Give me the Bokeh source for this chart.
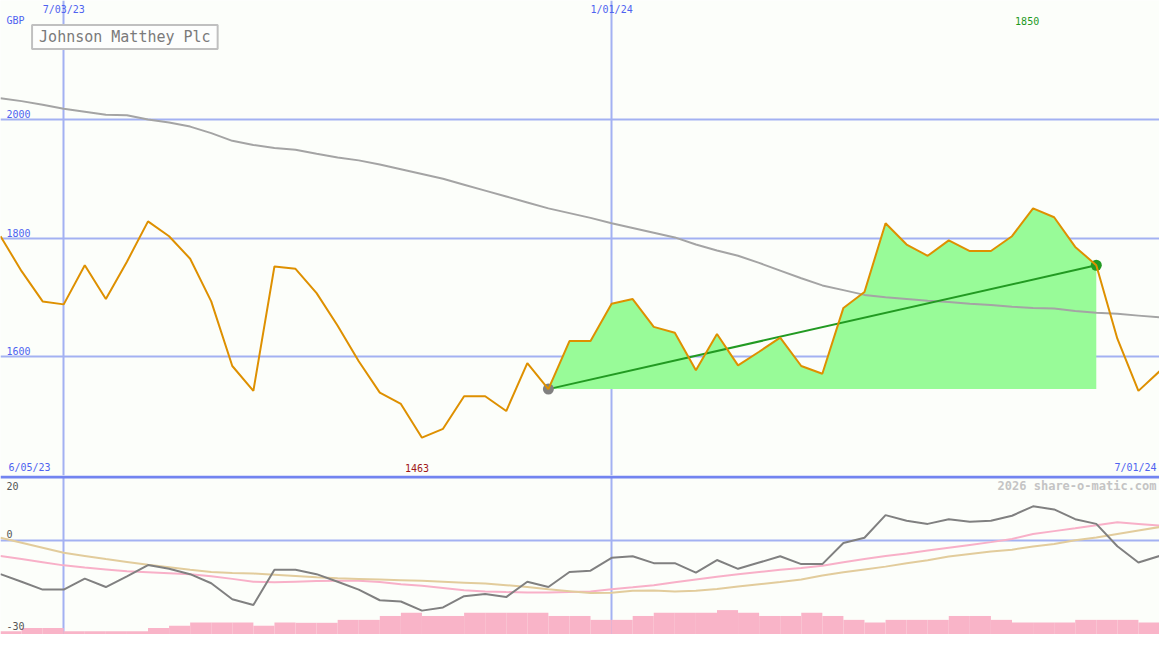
import pandas as pd
from bokeh.plotting import figure
from bokeh.models import Range1d, Grid, FixedTicker, Span, Label
from bokeh.layouts import column
from bokeh.embed import file_html
from bokeh.resources import INLINE

# ---------------- data ----------------
dates = pd.date_range("2023-06-12", periods=56, freq="7D")

price = [1803, 1744, 1693, 1688, 1754, 1697, 1760, 1828, 1803, 1765,
         1693, 1584, 1542, 1752, 1748, 1707, 1652, 1592, 1539, 1520,
         1463, 1478, 1533, 1533, 1508, 1589, 1545, 1626, 1626, 1689,
         1697, 1650, 1640, 1577, 1638, 1585, 1608, 1632, 1584, 1571,
         1682, 1709, 1825, 1789, 1770, 1796, 1778, 1778, 1803, 1850,
         1835, 1785, 1754, 1630, 1542, 1575]

ma_long = [2036, 2031, 2025, 2018, 2013, 2008, 2007, 2000, 1995, 1988,
           1977, 1964, 1957, 1952, 1949, 1942, 1936, 1931, 1924, 1916,
           1908, 1900, 1890, 1880, 1870, 1860, 1850, 1842, 1834, 1825,
           1817, 1809, 1801, 1789, 1779, 1770, 1758, 1745, 1732, 1720,
           1712, 1704, 1700, 1697, 1694, 1692, 1689, 1687, 1684, 1682,
           1681, 1677, 1674, 1672, 1669, 1666]

momentum = [-10.8, -13.2, -15.7, -15.7, -12.2, -14.9, -11.5, -7.9, -9.1, -10.8,
            -13.7, -18.8, -20.6, -9.4, -9.4, -10.8, -13.2, -15.7, -19.1, -19.5,
            -22.4, -21.4, -17.8, -17.1, -18.1, -13.2, -14.9, -10.1, -9.7, -5.6,
            -5.1, -7.3, -7.3, -10.3, -6.3, -9.1, -7.1, -5.1, -7.6, -7.6,
            -0.9, 0.8, 8.0, 6.2, 5.2, 6.7, 5.9, 6.2, 7.8, 10.8,
            9.8, 6.7, 5.2, -1.9, -7.1, -5.0]

signal_fast = [-5.0, -6.0, -7.0, -8.0, -8.7, -9.3, -9.9, -10.2, -10.5, -10.8,
               -11.5, -12.3, -13.2, -13.4, -13.2, -13.0, -12.9, -12.9, -13.3, -14.0,
               -14.5, -15.2, -15.9, -16.3, -16.5, -16.6, -16.6, -16.5, -16.3, -15.6,
               -15.0, -14.3, -13.4, -12.5, -11.6, -10.8, -10.1, -9.4, -8.8, -8.1,
               -7.0, -6.0, -5.0, -4.2, -3.3, -2.4, -1.5, -0.6, 0.4, 2.0,
               2.9, 3.8, 4.8, 5.7, 5.2, 4.7]

signal_slow = [0.8, -0.8, -2.4, -4.0, -5.0, -6.0, -6.9, -7.8, -8.6, -9.4,
               -10.1, -10.4, -10.6, -11.0, -11.4, -11.8, -12.1, -12.3, -12.5, -12.7,
               -12.9, -13.2, -13.5, -13.8, -14.3, -14.9, -15.6, -16.2, -16.8, -16.7,
               -16.1, -16.0, -16.3, -16.1, -15.5, -14.7, -14.0, -13.3, -12.5, -11.2,
               -10.2, -9.3, -8.4, -7.3, -6.4, -5.2, -4.4, -3.6, -3.0, -2.0,
               -1.2, 0.0, 0.9, 2.0, 3.1, 4.2]

# weekly volume (thousands), one value per interval between consecutive weeks
volume = [330, 670, 670, 330, 330, 330, 330, 670, 900, 1230,
          1230, 1230, 900, 1230, 1200, 1200, 1500, 1500, 1900, 2230,
          1900, 1900, 2230, 2230, 2230, 2230, 1900, 1900, 1500, 1500,
          1900, 2230, 2230, 2230, 2500, 2230, 1900, 1900, 2230, 1900,
          1500, 1230, 1500, 1500, 1500, 1900, 1900, 1500, 1230, 1230,
          1230, 1500, 1500, 1500, 1230]

date_lines = ["2023-07-03", "2024-01-01"]
date_line_labels = ["7/03/23", "1/01/24"]
price_grid = [1600, 1800, 2000]
trend_start, trend_end = 26, 52
title = "Johnson Matthey Plc"

# ---------------- styling ----------------
BG = "#fcfefa"
GRID = "#a3b1f2"
BLUE_TXT = "#4f63f0"
FONT = "DejaVu Sans Mono"
W, H_UP, H_LO = 1159, 475, 159


def ms(d):
    return pd.Timestamp(d).timestamp() * 1000.0


X0, X1 = ms(dates[0]), ms(dates[-1])


def xd(px):  # reference pixel -> x data
    return X0 + (X1 - X0) * px / 1175.0


def yu(px):  # reference pixel -> upper panel value
    return 2200.8 - px / 0.6075


def yl(px):  # reference pixel -> lower panel value
    return 20.0 - (px - 487) / 3.26


def lab(p, x, y, text, color, size="10px", align="left", base="middle", style="normal"):
    p.add_layout(Label(x=x, y=y, text=text, text_color=color, text_font=FONT,
                       text_font_size=size, text_align=align, text_baseline=base,
                       text_font_style=style))


# ---------------- upper panel ----------------
p1 = figure(width=W, height=H_UP, x_range=Range1d(X0, X1), y_range=Range1d(1399.2, 2200.8),
            x_axis_type=None, y_axis_type=None, toolbar_location=None, output_backend="svg",
            min_border=0, background_fill_color=BG, border_fill_color=BG, outline_line_color=None)

p1.add_layout(Grid(dimension=1, ticker=FixedTicker(ticks=price_grid),
                   grid_line_color=GRID, grid_line_width=2))
p1.add_layout(Grid(dimension=0, ticker=FixedTicker(ticks=[ms(d) for d in date_lines]),
                   grid_line_color=GRID, grid_line_width=2))

seg_x = dates[trend_start:trend_end + 1]
seg_y = price[trend_start:trend_end + 1]
base = price[trend_start]
p1.varea(x=seg_x, y1=[base] * len(seg_x), y2=seg_y, fill_color="#98fb98")
p1.line(dates, ma_long, line_color="#a4a4a4", line_width=2)
p1.line([dates[trend_start], dates[trend_end]], [price[trend_start], price[trend_end]],
        line_color="#229a22", line_width=2)
p1.scatter([dates[trend_start]], [price[trend_start]], size=11, fill_color="#808080", line_color=None)
p1.scatter([dates[trend_end]], [price[trend_end]], size=11, fill_color="#229a22", line_color=None)
p1.line(dates, price, line_color="#de9000", line_width=2)

# labels
lab(p1, xd(6), yu(20), "GBP", BLUE_TXT)
for v in price_grid:
    lab(p1, xd(6), v + 2, str(v), BLUE_TXT, base="bottom")
for d, t in zip(date_lines, date_line_labels):
    lab(p1, ms(d), yu(9), t, BLUE_TXT, align="center")
imax = price.index(max(price))
imin = price.index(min(price))
lab(p1, ms(dates[imax]) - (X1 - X0) * 6 / 1175, yu(21), str(max(price)), "#1f9a1f", align="center")
lab(p1, ms(dates[imin]) - (X1 - X0) * 5 / 1175, yu(479), str(min(price)), "#a01818", align="center")
lab(p1, xd(8), yu(479), "6/05/23", BLUE_TXT)
lab(p1, xd(1172), yu(479), "7/01/24", BLUE_TXT, align="right")

p1.add_layout(Label(x=xd(32), y=yu(25), text=title, text_color="#7a7a7a", text_font=FONT,
                    text_font_size="15px", text_align="left", text_baseline="top",
                    border_line_color="#c0c0c0", border_line_width=2,
                    background_fill_color="#fdfefd", padding=(7, 3)))

# ---------------- lower panel ----------------
p2 = figure(width=W, height=H_LO, x_range=p1.x_range, y_range=Range1d(-30, 20.6),
            x_axis_type=None, y_axis_type=None, toolbar_location=None, output_backend="svg",
            min_border=0, background_fill_color=BG, border_fill_color=BG, outline_line_color=None)
p2.extra_y_ranges = {"vol": Range1d(0, 16300)}

p2.add_layout(Grid(dimension=1, ticker=FixedTicker(ticks=[0]),
                   grid_line_color=GRID, grid_line_width=2))
p2.add_layout(Grid(dimension=0, ticker=FixedTicker(ticks=[ms(d) for d in date_lines]),
                   grid_line_color=GRID, grid_line_width=2))
p2.add_layout(Span(location=20.1, dimension="width", line_color="#7284f0", line_width=3))

p2.quad(left=dates[:-1], right=dates[1:], bottom=0, top=volume, y_range_name="vol",
        fill_color="#f9b4c8", line_color=None)
p2.line(dates, signal_fast, line_color="#f8b0c8", line_width=2)
p2.line(dates, signal_slow, line_color="#e2cc9c", line_width=2)
p2.line(dates, momentum, line_color="#808080", line_width=2)

lab(p2, xd(6), yl(496), "20", "#555555")
lab(p2, xd(6), yl(546), "0", "#555555")
lab(p2, xd(6), yl(641), "-30", "#555555")
lab(p2, xd(1172), yl(496), "2026 share-o-matic.com", "#c4c4c4", size="12px",
    align="right", style="bold")

layout = column(p1, p2, spacing=0)
open("out.html", "w").write(file_html(layout, INLINE))
